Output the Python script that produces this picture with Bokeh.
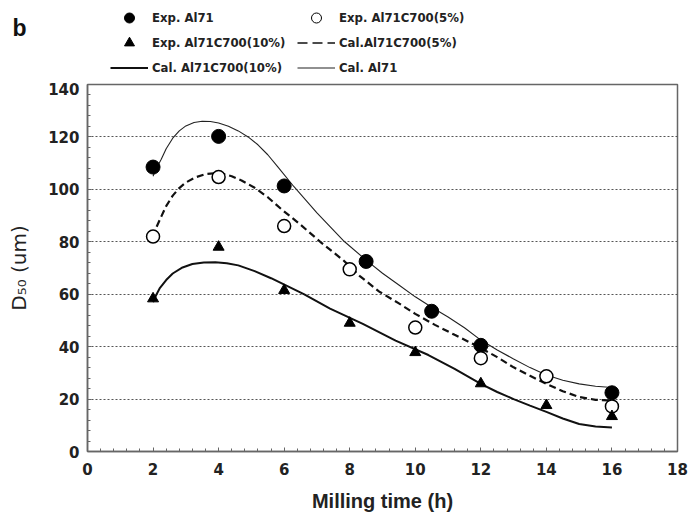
from bokeh.plotting import figure
from bokeh.models import (Legend, LegendItem, Label,
                          SingleIntervalTicker, Range1d)
from bokeh.embed import file_html
from bokeh.resources import INLINE

# ---- data -------------------------------------------------------------
exp_al71_x = [2, 4, 6, 8.5, 10.5, 12, 16]
exp_al71_y = [108.5, 120.2, 101.3, 72.5, 53.5, 40.5, 22.4]

exp_5_x = [2, 4, 6, 8, 10, 12, 14, 16]
exp_5_y = [82, 104.7, 86, 69.5, 47.3, 35.6, 28.7, 17.2]

exp_10_x = [2, 4, 6, 8, 10, 12, 14, 16]
exp_10_y = [58.3, 78, 61.5, 49, 37.8, 25.9, 17.6, 13.4]

cal_al71_x = [2.0, 2.1, 2.25, 2.4, 2.6, 2.8, 3.0, 3.25, 3.5, 3.75, 4.0, 4.3,
              4.6, 4.9, 5.2, 5.5, 5.8, 6.3, 7.0, 7.8, 8.5, 9.0, 9.5, 10.0,
              10.5, 11.0, 11.5, 12.0, 12.5, 13.0, 13.5, 14.0, 14.5, 15.0,
              15.5, 16.0]
cal_al71_y = [105, 108, 111.5, 115.5, 119.5, 122.3, 124.2, 125.5, 126, 125.9,
              125.3, 124.1, 122.3, 120, 117, 113.2, 108.7, 101, 91, 80.5, 73,
              68, 63.5, 59, 55, 51.3, 47.2, 42.5, 38.7, 35.3, 32, 29.2, 27.2,
              25.8, 24.9, 24.4]

cal_5_x = [2.0, 2.1, 2.25, 2.4, 2.6, 2.8, 3.0, 3.3, 3.6, 3.85, 4.1, 4.4, 4.7,
           5.1, 5.5, 5.9, 6.5, 7.1, 7.8, 8.3, 8.9, 9.5, 10.0, 10.6, 11.2, 11.8,
           12.5, 13.0, 13.5, 14.0, 14.5, 15.0, 15.5, 16.0]
cal_5_y = [81.8, 85.5, 89.6, 93.6, 97.6, 100.5, 102.6, 104.6, 105.8, 106.1,
           106, 105, 103.4, 100.6, 97, 92.6, 86.5, 80, 73, 67, 61, 56.5, 52.5,
           48.3, 44.5, 40.8, 36, 32.1, 28.9, 25.8, 23, 20.8, 19.7, 19.5]

cal_10_x = [2.0, 2.1, 2.2, 2.4, 2.6, 2.9, 3.2, 3.55, 3.9, 4.25, 4.6, 5.1, 5.6,
            6.6, 7.4, 8.4, 9.4, 10.4, 11.2, 12.0, 12.5, 13.0, 13.5, 14.0, 14.5,
            15.0, 15.5, 16.0]
cal_10_y = [57, 59.8, 62.2, 65.4, 67.9, 70.2, 71.5, 72.1, 72.2, 71.8, 71, 68.8,
            66.1, 60, 54.5, 48.7, 42.3, 36.8, 31.5, 25.8, 22.7, 20, 17.5, 15.1,
            12.6, 10.5, 9.5, 9.2]

legend_left_labels = ["Exp. Al71", "Exp. Al71C700(10%)", "Cal. Al71C700(10%)"]
legend_right_labels = ["Exp. Al71C700(5%)", "Cal.Al71C700(5%)", "Cal. Al71"]

x_label = "Milling time (h)"
y_label = "D\u2085\u2080 (um)"
panel_letter = "b"

LEGEND_FONT = "'DejaVu Sans Condensed', sans-serif"

# ---- header strip with legend and panel letter ------------------------
# the legend renderers use the real series, which all lie outside this
# strip's (0..1) ranges, so only their legend glyphs show
top = figure(width=698, height=82, output_backend="svg", toolbar_location=None,
             x_axis_type=None, y_axis_type=None,
             x_range=Range1d(0, 1), y_range=Range1d(0, 1),
             min_border=0, min_border_left=0, min_border_right=0,
             min_border_top=0, min_border_bottom=0)
top.outline_line_color = None
top.grid.visible = False
top.background_fill_color = "white"
top.border_fill_color = "white"

r_al71 = top.scatter(exp_al71_x, exp_al71_y, marker="circle", size=6,
                     fill_color="black", line_color="black")
r_5 = top.scatter(exp_5_x, exp_5_y, marker="circle", size=7,
                  fill_color="white", line_color="black", line_width=1)
r_10 = top.scatter(exp_10_x, exp_10_y, marker="triangle", size=11,
                   fill_color="black", line_color="black")
rc_5 = top.line(cal_5_x, cal_5_y, line_color="#111111", line_width=1.3,
                line_dash="10 5")
rc_10 = top.line(cal_10_x, cal_10_y, line_color="#111111", line_width=2)
rc_al71 = top.line(cal_al71_x, cal_al71_y, line_color="#222222", line_width=1.2)

legend_style = dict(orientation="vertical", padding=2, spacing=0, margin=0,
                    glyph_width=38, glyph_height=25, label_height=25,
                    label_standoff=4,
                    label_text_font=LEGEND_FONT,
                    label_text_font_style="bold", label_text_font_size="13px",
                    label_text_color="#222222",
                    border_line_alpha=0, background_fill_alpha=0)

legend_left = Legend(items=[LegendItem(label=lab, renderers=[r]) for lab, r in
                            zip(legend_left_labels, [r_al71, r_10, rc_10])],
                     location=(108, 0), **legend_style)
legend_right = Legend(items=[LegendItem(label=lab, renderers=[r]) for lab, r in
                             zip(legend_right_labels, [r_5, rc_5, rc_al71])],
                      location=(295, 0), **legend_style)
top.add_layout(legend_left, "center")
top.add_layout(legend_right, "center")

top.add_layout(Label(x=12, y=55, x_units="screen", y_units="screen",
                     text=panel_letter, text_font="Liberation Sans",
                     text_font_style="bold", text_font_size="23px",
                     text_baseline="alphabetic", text_color="#111111"))

# ---- main chart -------------------------------------------------------
p = figure(width=698, height=434, output_backend="svg", toolbar_location=None,
           x_range=Range1d(0, 18), y_range=Range1d(0, 140),
           min_border_left=87, min_border_right=21,
           min_border_top=2, min_border_bottom=65)
p.background_fill_color = "white"
p.border_fill_color = "white"
p.outline_line_color = "#666666"
p.outline_line_width = 1.5

p.line(cal_al71_x, cal_al71_y, line_color="#222222", line_width=1.1)
p.line(cal_5_x, cal_5_y, line_color="#111111", line_width=2.2, line_dash="7 4")
p.line(cal_10_x, cal_10_y, line_color="#111111", line_width=2.0)

p.scatter(exp_al71_x, exp_al71_y, marker="circle", size=14,
          fill_color="black", line_color="black")
p.scatter(exp_5_x, exp_5_y, marker="circle", size=13,
          fill_color="white", line_color="black", line_width=1.5)
p.scatter(exp_10_x, exp_10_y, marker="triangle", size=11,
          fill_color="black", line_color="black")

for ax in (p.xaxis[0], p.yaxis[0]):
    ax.axis_line_color = "#666666"
    ax.axis_line_width = 1.5
    ax.major_tick_in = 4
    ax.major_tick_out = 0
    ax.minor_tick_in = 3
    ax.minor_tick_out = 0
    ax.major_tick_line_color = "#666666"
    ax.minor_tick_line_color = "#666666"
    ax.major_label_text_font = "DejaVu Sans"
    ax.major_label_text_font_style = "bold"
    ax.major_label_text_font_size = "15px"
    ax.major_label_text_color = "#222222"

p.xaxis.ticker = SingleIntervalTicker(interval=2, num_minor_ticks=5)
p.yaxis.ticker = SingleIntervalTicker(interval=20, num_minor_ticks=5)
p.xaxis.major_label_standoff = 11
p.yaxis.major_label_standoff = 8

p.xaxis.axis_label = x_label
p.xaxis.axis_label_text_font = "Liberation Sans"
p.xaxis.axis_label_text_font_style = "bold"
p.xaxis.axis_label_text_font_size = "20px"
p.xaxis.axis_label_text_color = "#222222"
p.xaxis.axis_label_standoff = 12

p.yaxis.axis_label = y_label
p.yaxis.axis_label_text_font = "DejaVu Sans"
p.yaxis.axis_label_text_font_style = "normal"
p.yaxis.axis_label_text_font_size = "20px"
p.yaxis.axis_label_text_color = "#222222"
p.yaxis.axis_label_standoff = 14

p.xgrid.visible = False
p.ygrid.grid_line_color = "#555555"
p.ygrid.grid_line_dash = "2 2"
p.ygrid.grid_line_width = 1

open("out.html", "w").write(file_html([top, p], INLINE))
